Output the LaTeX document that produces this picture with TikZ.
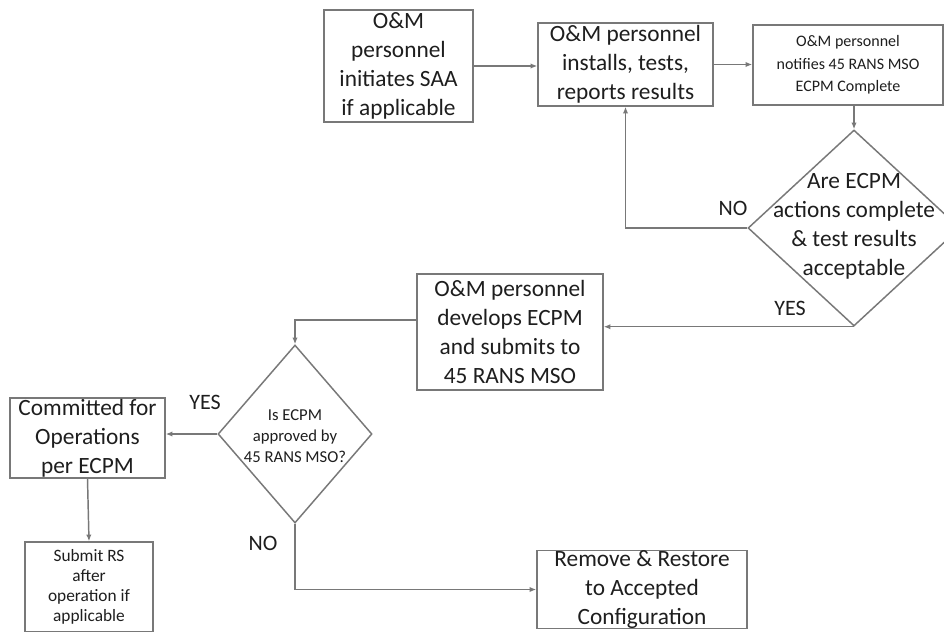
\documentclass[tikz,border=0pt]{standalone}
\usepackage{fontspec}
\setmainfont{Carlito}
\usetikzlibrary{arrows.meta,shapes.geometric}
\definecolor{ln}{RGB}{120,120,120}
\definecolor{tx}{RGB}{30,30,30}
\tikzset{
  box/.style={draw=ln, line width=1.1pt, rectangle, align=center, inner sep=0pt, text=tx},
  dia/.style={draw=ln, line width=1.1pt, diamond, inner sep=0pt},
  txt/.style={align=center, text=tx, inner sep=0pt},
  con/.style={draw=ln, line width=1.1pt, -{Latex[length=5pt,width=4pt]}},
  lbl/.style={text=tx, font=\fontsize{16.5}{18}\selectfont, inner sep=0pt},
  big/.style={font=\fontsize{17.5}{21.7}\selectfont},
  small/.style={font=\fontsize{12}{17}\selectfont},
}
\begin{document}
\begin{tikzpicture}[x=0.75pt,y=-0.75pt]
\useasboundingbox (0,0) rectangle (944,631);
\clip (0,0) rectangle (944,631);
\fill[white] (0,0) rectangle (944,631);

\node[box,big,minimum width=149*0.75pt,minimum height=112*0.75pt] (A) at (398.5,66) {O\&M\\personnel\\initiates SAA\\if applicable};
\node[box,big,minimum width=175*0.75pt,minimum height=83*0.75pt] (B) at (625.5,64.5) {O\&M personnel\\installs, tests,\\reports results};
\node[box,small,minimum width=190*0.75pt,minimum height=80*0.75pt] (C) at (848,65) {O\&M personnel\\notifies 45 RANS MSO\\ECPM Complete};
\node[dia,minimum width=212*0.75pt,minimum height=196*0.75pt] (D1) at (854,228) {};
\node[txt,big] (D1t) at (854,226) {Are ECPM\\actions complete\\\& test results\\acceptable};
\node[box,big,minimum width=186*0.75pt,minimum height=116*0.75pt] (E) at (510,332) {O\&M personnel\\develops ECPM\\and submits to\\45 RANS MSO};
\node[dia,minimum width=154*0.75pt,minimum height=178*0.75pt] (D2) at (295,434) {};
\node[txt,font=\fontsize{12.5}{15.8}\selectfont] (D2t) at (295,436) {Is ECPM\\approved by\\45 RANS MSO?};
\node[box,big,minimum width=155*0.75pt,minimum height=80*0.75pt] (F) at (87.5,438) {Committed for\\Operations\\per ECPM};
\node[box,font=\fontsize{13}{15}\selectfont,minimum width=128*0.75pt,minimum height=90*0.75pt] (G) at (89,587) {Submit RS\\after\\operation if\\applicable};
\node[box,big,minimum width=210*0.75pt,minimum height=78*0.75pt] (H) at (642,589.5) {Remove \& Restore\\to Accepted\\Configuration};

\node[lbl] (no1) at (733,208) {NO};
\node[lbl] (yes1) at (790,308) {YES};
\node[lbl] (yes2) at (205,402) {YES};
\node[lbl] (no2) at (263,543) {NO};

\draw[con] (A.east) -- (A.east -| B.west);
\draw[con] (B.east) -- (B.east -| C.west);
\draw[con] (C.south -| D1.north) -- (D1.north);
\draw[con] (D1.west) -| (B.south);
\draw[con] (D1.south) -- (D1.south -| E.east);
\draw[con] ([yshift=9pt]E.west) -| (D2.north);
\draw[con] (D2.west) -- (D2.west -| F.east);
\draw[con] (F.south) -- (G.north);
\draw[con] (D2.south) |- (H.west);
\end{tikzpicture}
\end{document}
